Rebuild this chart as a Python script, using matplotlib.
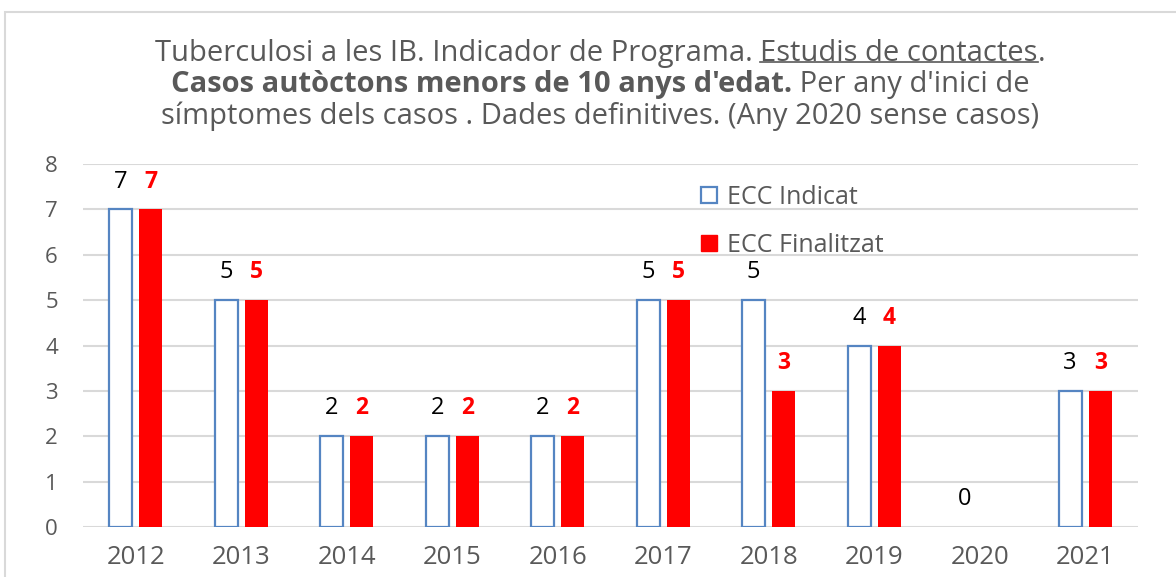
import matplotlib
matplotlib.use("Agg")
import matplotlib.pyplot as plt
from matplotlib.patches import Rectangle, Patch
from matplotlib.lines import Line2D
import numpy as np

years = ["2012", "2013", "2014", "2015", "2016", "2017", "2018", "2019", "2020", "2021"]
ecc_indicat = [7, 5, 2, 2, 2, 5, 5, 4, 0, 3]
ecc_finalitzat = [7, 5, 2, 2, 2, 5, 3, 4, None, 3]
yticks = [0, 1, 2, 3, 4, 5, 6, 7, 8]
series_names = ["ECC Indicat", "ECC Finalitzat"]

title_lines = [
    [("Tuberculosi a les IB. Indicador de Programa. ", "normal", False),
     ("Estudis de contactes", "normal", True),
     (".", "normal", False)],
    [("Casos autòctons menors de 10 anys d'edat.", "bold", False),
     (" Per any d'inici de", "normal", False)],
    [("símptomes dels casos . Dades definitives. (Any 2020 sense casos)", "normal", False)],
]

FONT = "Open Sans"
TXT = "#595959"
BLUE = "#5585C2"
plt.rcParams["font.family"] = [FONT, "DejaVu Sans"]

W, H = 1176, 577
fig = plt.figure(figsize=(W / 100, H / 100), dpi=100)

# outer chart border
fig.patches.append(Rectangle((5 / W, -0.1), 1.2, (H - 12) / H + 0.1, transform=fig.transFigure,
                             fill=False, edgecolor="#D9D9D9", linewidth=1.5))

ax = fig.add_axes([83 / W, 1 - 527 / H, (1138 - 83) / W, (527 - 164) / H])
x = np.arange(len(years))
off = 0.143
bw = 0.22

fin_vals = [np.nan if v is None else v for v in ecc_finalitzat]
bars_i = ax.bar(x - off, ecc_indicat, bw, facecolor="white", edgecolor=BLUE, linewidth=1.6, zorder=3)
for b, v in zip(bars_i, ecc_indicat):
    if v == 0:
        b.set_linewidth(0)
ax.bar(x + off, fin_vals, bw, facecolor="#FF0000", edgecolor="#FF0000", linewidth=0, zorder=3)

for xi, v in zip(x, ecc_indicat):
    ax.annotate(str(v), (xi - off, v), xytext=(0, 20), textcoords="offset points",
                ha="center", va="center", fontsize=17, color="black")
for xi, v in zip(x, ecc_finalitzat):
    if v is None:
        continue
    ax.annotate(str(v), (xi + off, v), xytext=(0, 20), textcoords="offset points",
                ha="center", va="center", fontsize=16.5, color="#FF0000", fontweight="bold")

ax.set_xlim(-0.5, len(years) - 0.5)
ax.set_ylim(0, 8)
ax.set_yticks(yticks)
ax.set_xticks(x)
ax.set_xticklabels(years)
ax.tick_params(axis="both", length=0, labelcolor=TXT)
ax.tick_params(axis="y", pad=18, labelsize=16)
ax.tick_params(axis="x", pad=13, labelsize=18.5)
for s in ax.spines.values():
    s.set_visible(False)
ax.grid(axis="y", color="#D9D9D9", linewidth=1.5, zorder=0)
ax.set_axisbelow(True)

handles = [Patch(facecolor="white", edgecolor=BLUE, linewidth=1.6),
           Patch(facecolor="#FF0000", edgecolor="#FF0000")]
leg = ax.legend(handles, series_names, loc="upper left", bbox_to_anchor=(693 / W, 1 - 177 / H),
                bbox_transform=fig.transFigure, frameon=False, fontsize=18,
                handlelength=0.65, handleheight=0.6, handletextpad=0.4, labelspacing=0.92,
                borderaxespad=0, borderpad=0.3)
for t in leg.get_texts():
    t.set_color(TXT)

# Title with mixed styles
fig.canvas.draw()
renderer = fig.canvas.get_renderer()
line_y = [50, 81, 113]
cx = 600
tfs = 21
for segs, yy in zip(title_lines, line_y):
    texts = []
    for s, wgt, ul in segs:
        t = fig.text(0, 1 - yy / H, s, fontsize=tfs, fontweight=wgt, color=TXT,
                     ha="left", va="center_baseline")
        texts.append(t)
    widths = [t.get_window_extent(renderer).width for t in texts]
    total = sum(widths)
    xs = cx - total / 2
    for t, w, (s, wgt, ul) in zip(texts, widths, segs):
        t.set_x(xs / W)
        if ul:
            fig.add_artist(Line2D([xs / W, (xs + w) / W], [1 - (yy + 12) / H] * 2,
                                  transform=fig.transFigure, color=TXT, linewidth=1.2))
        xs += w

fig.savefig("out.png", dpi=100)
